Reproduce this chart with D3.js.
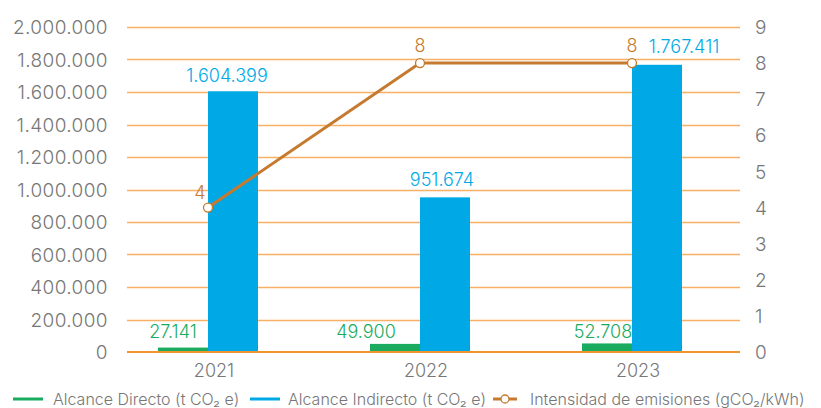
<!DOCTYPE html>
<html>
<head>
<meta charset="utf-8">
<script src="https://cdn.jsdelivr.net/npm/d3@7"></script>
<style>
  body { margin: 0; background: #fff; }
  text { font-family: "Inter", "Open Sans", sans-serif; font-weight: 300; }
</style>
</head>
<body>
<div id="main"></div>
<script>
const years = ["2021", "2022", "2023"];
const directo = [27141, 49900, 52708];
const indirecto = [1604399, 951674, 1767411];
const intensidad = [4, 8, 8];
const leftTicks = [0, 200000, 400000, 600000, 800000, 1000000, 1200000, 1400000, 1600000, 1800000, 2000000];
const rightTicks = [0, 1, 2, 3, 4, 5, 6, 7, 8, 9];

const w = 821;
const h = 408;
const plot = { left: 127, right: 740, top: 27, bottom: 352 };

const green = "#1aab5e";
const blue = "#00a9e6";
const lineCol = "#c67a30";
const grid = "#f8b066";
const grey = "#777";

const fmt = v => d3.format(",")(v).replace(/,/g, ".");

const svg = d3.select("#main").append("svg")
  .attr("width", w)
  .attr("height", h);

const x = d3.scaleBand()
  .domain(years)
  .range([102, 738]);

const y = d3.scaleLinear()
  .domain([0, 2000000])
  .range([plot.bottom, plot.top]);

const y2 = d3.scaleLinear()
  .domain([0, 9])
  .range([plot.bottom, plot.top]);

const barW = 50;
const mid = d => x(d) + x.bandwidth() / 2;

// grid lines
svg.append("g")
  .selectAll("line")
  .data(leftTicks.slice(1))
  .enter()
  .append("line")
  .attr("x1", plot.left)
  .attr("x2", plot.right)
  .attr("y1", d => Math.round(y(d)) + 0.5)
  .attr("y2", d => Math.round(y(d)) + 0.5)
  .attr("stroke", grid)
  .attr("stroke-width", 1.3);

// left axis
const yAxis = d3.axisLeft(y)
  .tickValues(leftTicks)
  .tickFormat(fmt)
  .tickSize(0)
  .tickPadding(0);

const gy = svg.append("g")
  .attr("transform", "translate(108,0)")
  .call(yAxis);
gy.select(".domain").remove();
gy.selectAll("text")
  .attr("fill", grey)
  .style("font-size", "19px")
  .style("letter-spacing", "0.4px")
  .attr("dy", "0.35em");

// right axis
const y2Axis = d3.axisRight(y2)
  .tickValues(rightTicks)
  .tickSize(0)
  .tickPadding(0);

const gy2 = svg.append("g")
  .attr("transform", "translate(755,0)")
  .call(y2Axis);
gy2.select(".domain").remove();
gy2.selectAll("text")
  .attr("fill", grey)
  .style("font-size", "19px")
  .attr("dy", "0.35em");

// bars
svg.append("g")
  .selectAll("rect")
  .data(years)
  .enter()
  .append("rect")
  .attr("x", d => mid(d) - barW)
  .attr("width", barW)
  .attr("y", (d, i) => y(directo[i]))
  .attr("height", (d, i) => y(0) - y(directo[i]))
  .attr("fill", green);

svg.append("g")
  .selectAll("rect")
  .data(years)
  .enter()
  .append("rect")
  .attr("x", d => mid(d))
  .attr("width", barW)
  .attr("y", (d, i) => y(indirecto[i]))
  .attr("height", (d, i) => y(0) - y(indirecto[i]))
  .attr("fill", blue);

// zero line
svg.append("line")
  .attr("x1", plot.left)
  .attr("x2", plot.right)
  .attr("y1", y(0))
  .attr("y2", y(0))
  .attr("stroke", "#f0952e")
  .attr("stroke-width", 2);

// x labels
const xAxis = d3.axisBottom(x).tickSize(0).tickPadding(0);
const gx = svg.append("g")
  .attr("transform", "translate(6,371)")
  .call(xAxis);
gx.select(".domain").remove();
gx.selectAll("text")
  .attr("fill", grey)
  .attr("dy", "0.35em")
  .style("font-size", "18px");

// bar labels
const directoNudge = [-10, -29, -4];
svg.append("g")
  .selectAll("text")
  .data(years)
  .enter()
  .append("text")
  .attr("x", (d, i) => mid(d) - barW / 2 + directoNudge[i])
  .attr("y", 338)
  .attr("text-anchor", "middle")
  .attr("fill", green)
  .style("font-size", "18px")
  .text((d, i) => fmt(directo[i]));

const indirectoNudge = [{ dx: -6, dy: -9 }, { dx: -3, dy: -11 }, { dx: 27, dy: -12 }];
svg.append("g")
  .selectAll("text")
  .data(years)
  .enter()
  .append("text")
  .attr("x", (d, i) => mid(d) + barW / 2 + indirectoNudge[i].dx)
  .attr("y", (d, i) => y(indirecto[i]) + indirectoNudge[i].dy)
  .attr("text-anchor", "middle")
  .attr("fill", blue)
  .style("font-size", "18px")
  .text((d, i) => fmt(indirecto[i]));

// line
const line = d3.line()
  .x(d => mid(d))
  .y((d, i) => y2(intensidad[i]));

svg.append("path")
  .datum(years)
  .attr("d", line)
  .attr("fill", "none")
  .attr("stroke", lineCol)
  .attr("stroke-width", 3);

svg.append("g")
  .selectAll("circle")
  .data(years)
  .enter()
  .append("circle")
  .attr("cx", d => mid(d))
  .attr("cy", (d, i) => y2(intensidad[i]))
  .attr("r", 4.5)
  .attr("fill", "#fff")
  .attr("stroke", lineCol)
  .attr("stroke-width", 1.3);

const lineNudge = [{ dx: -8, dy: -9 }, { dx: 0, dy: -11 }, { dx: 0, dy: -11 }];
svg.append("g")
  .selectAll("text")
  .data(years)
  .enter()
  .append("text")
  .attr("x", (d, i) => mid(d) + lineNudge[i].dx)
  .attr("y", (d, i) => y2(intensidad[i]) + lineNudge[i].dy)
  .attr("text-anchor", "middle")
  .attr("fill", lineCol)
  .style("font-size", "18px")
  .text((d, i) => intensidad[i]);

// legend
const legend = svg.append("g").attr("transform", "translate(0,399)");

legend.append("line").attr("x1", 13).attr("x2", 43).attr("y1", 0).attr("y2", 0)
  .attr("stroke", green).attr("stroke-width", 3);
legend.append("text").attr("x", 53).attr("y", 0).attr("dy", "0.35em")
  .attr("fill", grey).style("font-size", "16px")
  .text("Alcance Directo (t CO₂ e)");

legend.append("line").attr("x1", 250).attr("x2", 280).attr("y1", 0).attr("y2", 0)
  .attr("stroke", blue).attr("stroke-width", 3);
legend.append("text").attr("x", 288).attr("y", 0).attr("dy", "0.35em")
  .attr("fill", grey).style("font-size", "16px")
  .text("Alcance Indirecto (t CO₂ e)");

legend.append("line").attr("x1", 493).attr("x2", 517).attr("y1", 0).attr("y2", 0)
  .attr("stroke", lineCol).attr("stroke-width", 3);
legend.append("circle").attr("cx", 505).attr("cy", 0).attr("r", 4)
  .attr("fill", "#fff").attr("stroke", lineCol).attr("stroke-width", 1.3);
legend.append("text").attr("x", 530).attr("y", 0).attr("dy", "0.35em")
  .attr("fill", grey).style("font-size", "16px")
  .text("Intensidad de emisiones (gCO₂/kWh)");
</script>
</body>
</html>
